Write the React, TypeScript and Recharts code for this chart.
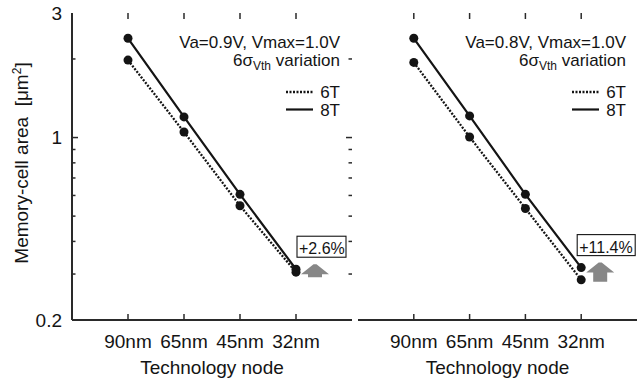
import React from 'react';
import { LineChart, Line, XAxis, YAxis, ReferenceDot, Legend, Label } from 'recharts';

// Technology nodes on the x axis
const nodes = ['90nm', '65nm', '45nm', '32nm'];

// Memory-cell area [µm²] at Va = 0.9 V, Vmax = 1.0 V
const area6TVa09 = [1.98, 1.05, 0.548, 0.305];
const area8TVa09 = [2.4, 1.2, 0.606, 0.313];

// Memory-cell area [µm²] at Va = 0.8 V, Vmax = 1.0 V
const area6TVa08 = [1.94, 1.005, 0.535, 0.285];
const area8TVa08 = [2.4, 1.21, 0.606, 0.3175];

// Log axis ticks; only the decades / ends carry labels
const yTicks = [0.2, 0.3, 0.4, 0.5, 0.6, 0.7, 0.8, 0.9, 1, 2, 3];
const yLabelled = [0.2, 1, 3];
const Y_MIN = 0.2;
const Y_MAX = 3;

const FONT = '"Liberation Sans", Arial, Helvetica, sans-serif';
const INK = '#141414';
const FRAME = '#2a2a2a';
const PLOT_TOP = 13;
const PLOT_BOTTOM = 320;
const PLOT_H = PLOT_BOTTOM - PLOT_TOP;

type PanelProps = {
  chartLeft: number;
  chartWidth: number;
  marginLeft: number;
  marginRight: number;
  yAxisWidth: number;
  showYLabels: boolean;
  area6T: number[];
  area8T: number[];
  condition: string;
  legendLeft: number;
  boxDx: number;
  boxW: number;
};

const makeRows = (a6: number[], a8: number[]) =>
  nodes.map((node, i) => ({ idx: i + 1, node, t6: a6[i], t8: a8[i] }));

function YTick(props: any) {
  const { y, payload, plotLeft, plotRight, showLabel } = props;
  const v = payload.value as number;
  const major = v === 1;
  const len = major ? 6 : 3.5;
  const edge = v === Y_MIN || v === Y_MAX;
  const label = yLabelled.includes(v) ? String(v) : null;
  return (
    <g>
      {!edge && (
        <>
          <line x1={plotLeft} x2={plotLeft + len} y1={y} y2={y} stroke={FRAME} strokeWidth={1.5} />
          <line x1={plotRight} x2={plotRight - len} y1={y} y2={y} stroke={FRAME} strokeWidth={1.5} />
        </>
      )}
      {showLabel && label && (
        <text x={plotLeft - 10} y={y} dy="0.36em" textAnchor="end" fontSize={19} fill={INK} fontFamily={FONT}>
          {label}
        </text>
      )}
    </g>
  );
}

function XTick(props: any) {
  const { x, payload } = props;
  return (
    <g>
      <line x1={x} x2={x} y1={PLOT_BOTTOM} y2={PLOT_BOTTOM - 6} stroke={FRAME} strokeWidth={1.5} />
      <line x1={x} x2={x} y1={PLOT_TOP} y2={PLOT_TOP + 6} stroke={FRAME} strokeWidth={1.5} />
      <text x={x} y={PLOT_BOTTOM + 28} textAnchor="middle" fontSize={19} fill={INK} fontFamily={FONT}>
        {nodes[payload.value - 1]}
      </text>
    </g>
  );
}

function LegendBox({ condition }: { condition: string }) {
  return (
    <svg width={182} height={92} style={{ display: 'block', overflow: 'visible' }} fontFamily={FONT}>
      <text x={180} y={18} textAnchor="end" fontSize={17} fill={INK}>
        {condition}
      </text>
      <text x={180} y={36} textAnchor="end" fontSize={17} fill={INK}>
        6σ
        <tspan fontSize={12} dy={4}>
          Vth
        </tspan>
        <tspan dy={-4}>{' variation'}</tspan>
      </text>
      <line x1={126} x2={153} y1={62} y2={62} stroke={INK} strokeWidth={2.3} strokeDasharray="2 1.5" />
      <text x={180} y={68} textAnchor="end" fontSize={17} fill={INK}>
        6T
      </text>
      <line x1={126} x2={153} y1={79.5} y2={79.5} stroke={INK} strokeWidth={2.2} />
      <text x={180} y={85.5} textAnchor="end" fontSize={17} fill={INK}>
        8T
      </text>
    </svg>
  );
}

// Increase marker at the 32nm node: up arrow plus boxed percentage
function Increase(props: any) {
  const { cx, cy, v6, v8, boxDx, boxW } = props;
  const y6 = cy + ((Math.log10(v8) - Math.log10(v6)) / Math.log10(Y_MAX / Y_MIN)) * PLOT_H;
  const ax = cx + 19;
  const top = cy - 5;
  const headBase = top + 10;
  const bottom = Math.max(y6 + 2, headBase + 3);
  const pts = [
    [ax - 1.5, top],
    [ax + 1.5, top],
    [ax + 14, headBase],
    [ax + 7, headBase],
    [ax + 7, bottom],
    [ax - 7, bottom],
    [ax - 7, headBase],
    [ax - 14, headBase],
  ]
    .map((p) => p.join(','))
    .join(' ');
  const boxBottom = cy - 12;
  const boxH = 21;
  const bx = cx + boxDx;
  const text = `+${((v8 / v6 - 1) * 100).toFixed(1)}%`;
  return (
    <g>
      <polygon points={pts} fill="#878787" />
      <rect x={bx} y={boxBottom - boxH} width={boxW} height={boxH} fill="#fff" stroke={INK} strokeWidth={1.1} />
      <text x={bx + 2} y={boxBottom - 3} fontSize={16} fill={INK} fontFamily={FONT}>
        {text}
      </text>
    </g>
  );
}

function Panel(p: PanelProps) {
  const rows = makeRows(p.area6T, p.area8T);
  const plotLeft = p.marginLeft + p.yAxisWidth;
  const plotRight = p.chartWidth - p.marginRight;
  return (
    <div style={{ position: 'absolute', left: p.chartLeft, top: 0 }}>
      <LineChart
        width={p.chartWidth}
        height={378}
        data={rows}
        margin={{ top: PLOT_TOP, right: p.marginRight, bottom: 0, left: p.marginLeft }}
      >
        <XAxis
          dataKey="idx"
          type="number"
          domain={[0, 5]}
          ticks={[1, 2, 3, 4]}
          allowDataOverflow
          interval={0}
          height={58}
          axisLine={{ stroke: FRAME, strokeWidth: 2 }}
          tickLine={false}
          tick={<XTick />}
        >
          <Label
            content={(lp: any) => {
              const vb = lp.viewBox || {};
              return (
                <text
                  x={vb.x + vb.width / 2}
                  y={373.5}
                  textAnchor="middle"
                  fontSize={19}
                  fill={INK}
                  fontFamily={FONT}
                >
                  Technology node
                </text>
              );
            }}
          />
        </XAxis>
        <XAxis
          xAxisId="top"
          orientation="top"
          dataKey="idx"
          type="number"
          domain={[0, 5]}
          allowDataOverflow
          height={0}
          tick={false}
          tickLine={false}
          axisLine={{ stroke: FRAME, strokeWidth: 2 }}
        />
        <YAxis
          type="number"
          scale="log"
          domain={[Y_MIN, Y_MAX]}
          allowDataOverflow
          ticks={yTicks}
          interval={0}
          width={p.yAxisWidth}
          axisLine={{ stroke: FRAME, strokeWidth: 2 }}
          tickLine={false}
          tick={<YTick plotLeft={plotLeft} plotRight={plotRight} showLabel={p.showYLabels} />}
        >
          {p.showYLabels && (
            <Label
              content={() => (
                <text
                  transform="translate(27.5,163) rotate(-90)"
                  textAnchor="middle"
                  fontSize={19}
                  fill={INK}
                  fontFamily={FONT}
                >
                  Memory-cell area{'\u00a0 '}[μm
                  <tspan fontSize={12} dy={-7}>
                    2
                  </tspan>
                  <tspan dy={7}>]</tspan>
                </text>
              )}
            />
          )}
        </YAxis>
        <YAxis
          yAxisId="right"
          orientation="right"
          type="number"
          scale="log"
          domain={[Y_MIN, Y_MAX]}
          allowDataOverflow
          width={0}
          tick={false}
          tickLine={false}
          axisLine={{ stroke: FRAME, strokeWidth: 2 }}
        />
        <Line
          dataKey="t6"
          name="6T"
          stroke={INK}
          strokeWidth={2.3}
          strokeDasharray="2 1.5"
          dot={{ r: 4.5, fill: INK, stroke: INK, strokeWidth: 0, strokeDasharray: '' }}
          activeDot={false}
          isAnimationActive={false}
        />
        <Line
          dataKey="t8"
          name="8T"
          stroke={INK}
          strokeWidth={2.2}
          dot={{ r: 4.5, fill: INK, stroke: INK, strokeWidth: 0 }}
          activeDot={false}
          isAnimationActive={false}
        />
        <ReferenceDot
          x={4}
          y={p.area8T[3]}
          ifOverflow="visible"
          shape={(sp: any) => (
            <Increase cx={sp.cx} cy={sp.cy} v6={p.area6T[3]} v8={p.area8T[3]} boxDx={p.boxDx} boxW={p.boxW} />
          )}
        />
        <Legend
          layout="vertical"
          align="center"
          verticalAlign="middle"
          wrapperStyle={{ left: p.legendLeft, top: 30, width: 182, height: 92 }}
          content={() => <LegendBox condition={p.condition} />}
        />
      </LineChart>
    </div>
  );
}

export default function App() {
  return (
    <div
      style={{
        position: 'absolute',
        left: 0,
        top: 0,
        width: 639,
        height: 378,
        background: '#fff',
        fontFamily: FONT,
      }}
    >
      <Panel
        chartLeft={0}
        chartWidth={360}
        marginLeft={12}
        marginRight={8}
        yAxisWidth={60}
        showYLabels
        area6T={area6TVa09}
        area8T={area8TVa09}
        condition="Va=0.9V, Vmax=1.0V"
        legendLeft={160}
        boxDx={1}
        boxW={49}
      />
      <Panel
        chartLeft={350}
        chartWidth={289}
        marginLeft={8}
        marginRight={2}
        yAxisWidth={0}
        showYLabels={false}
        area6T={area6TVa08}
        area8T={area8TVa08}
        condition="Va=0.8V, Vmax=1.0V"
        legendLeft={96}
        boxDx={-4}
        boxW={58}
      />
    </div>
  );
}
